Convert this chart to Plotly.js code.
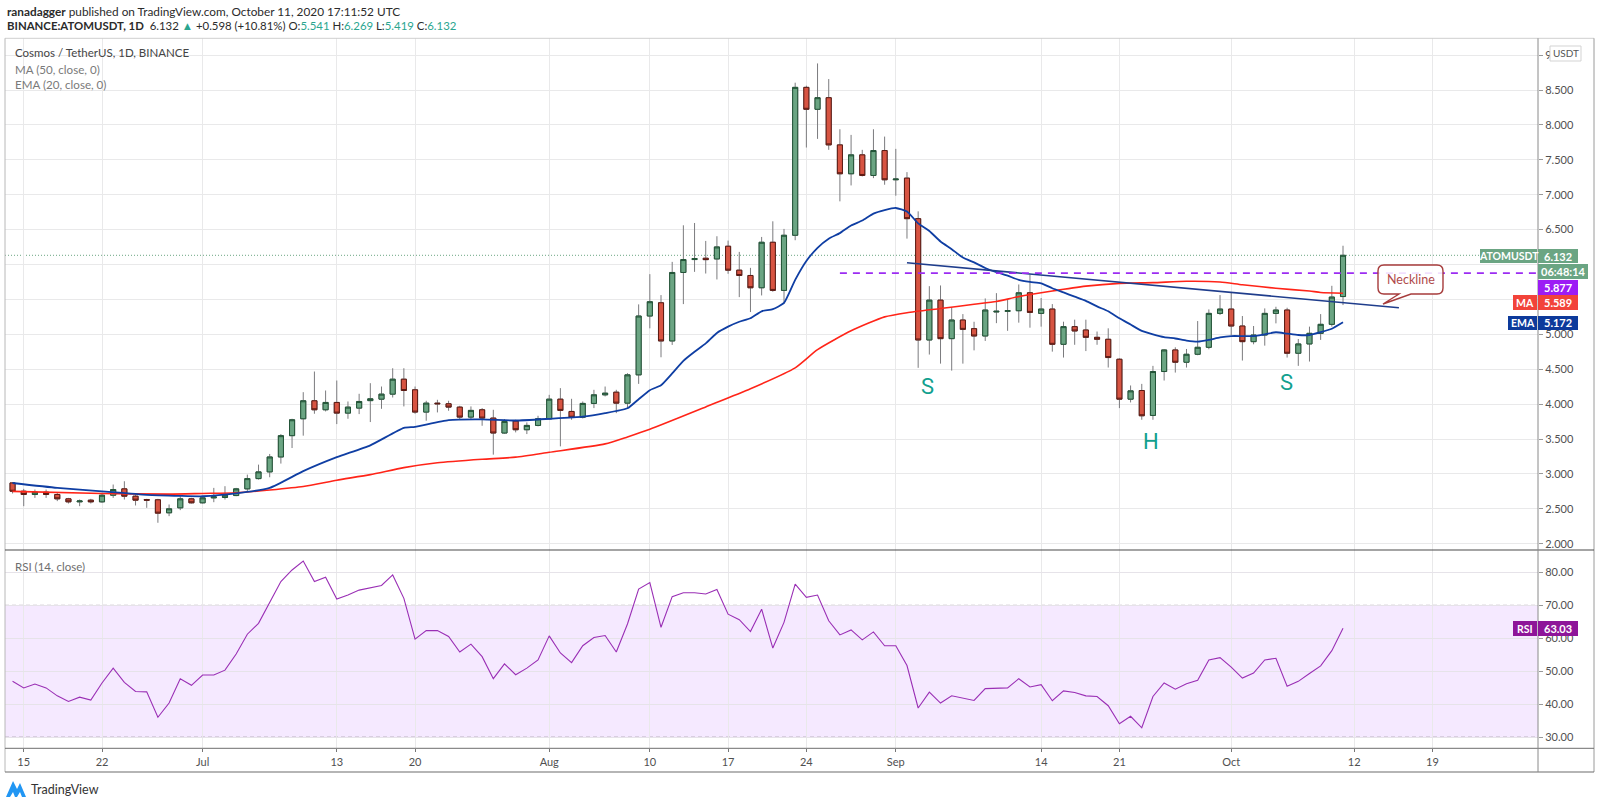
<!DOCTYPE html>
<html><head><meta charset="utf-8">
<script src="https://cdn.plot.ly/plotly-3.0.1.min.js"></script>
<style>html,body{margin:0;padding:0;background:#fff;}#chart{width:1600px;height:805px;}</style>
</head><body><div id="chart"></div>
<script>
// ---------------- DATA ----------------
const firstDay = [2020, 5, 14]; // 14 Jun 2020, daily candles
const openP = [2.871,2.752,2.705,2.738,2.705,2.643,2.600,2.624,2.600,2.695,
 2.786,2.681,2.633,2.629,2.443,2.514,2.643,2.586,2.657,2.662,
 2.690,2.786,2.933,3.029,3.243,3.548,3.790,4.048,3.919,4.024,
 3.871,3.943,4.050,4.071,4.143,4.357,4.205,3.886,4.014,4.005,
 3.957,3.814,3.919,3.800,3.586,3.757,3.633,3.695,3.790,4.071,
 3.895,3.812,4.010,4.133,4.171,4.014,4.419,5.262,5.452,4.905,
 5.886,6.071,6.090,6.080,6.262,5.919,5.843,5.667,6.319,5.629,
 6.419,8.538,8.224,8.390,7.714,7.300,7.571,7.276,7.633,7.214,
 7.238,6.657,4.919,5.490,4.938,5.205,5.081,4.976,5.320,5.330,
 5.338,5.595,5.300,5.362,4.857,5.110,5.062,4.957,4.929,4.643,
 4.071,4.195,3.838,4.467,4.776,4.600,4.714,4.814,5.300,5.362,
 5.119,4.895,4.990,5.300,5.348,4.729,4.862,5.014,5.143,5.541];
const highP = [2.880,2.786,2.776,2.776,2.729,2.657,2.633,2.643,2.729,2.848,
 2.895,2.705,2.643,2.643,2.562,2.681,2.657,2.681,2.800,2.824,
 2.800,2.990,3.133,3.286,3.571,3.790,4.171,4.467,4.195,4.338,
 4.038,4.148,4.300,4.252,4.514,4.514,4.252,4.048,4.062,4.048,
 3.976,3.967,3.943,3.919,3.786,3.776,3.738,3.833,4.133,4.229,
 4.076,4.038,4.205,4.252,4.205,4.443,5.429,5.862,5.562,6.038,
 6.562,6.595,6.338,6.405,6.343,6.181,5.952,6.395,6.619,6.510,
 8.605,8.562,8.881,8.657,7.938,7.857,7.643,7.938,7.833,7.657,
 7.324,6.762,5.690,5.700,5.390,5.290,5.180,5.514,5.590,5.500,
 5.714,5.857,5.520,5.433,5.181,5.210,5.210,5.040,5.086,4.657,
 4.267,4.290,4.548,4.786,4.814,4.790,5.190,5.357,5.562,5.595,
 5.262,5.119,5.371,5.395,5.381,4.933,5.110,5.290,5.695,6.269];
const lowP = [2.720,2.538,2.657,2.657,2.610,2.576,2.538,2.576,2.586,2.657,
 2.633,2.548,2.514,2.300,2.395,2.481,2.576,2.576,2.595,2.633,
 2.681,2.752,2.919,2.952,3.148,3.371,3.548,3.862,3.895,3.714,
 3.790,3.857,3.743,3.933,4.095,3.967,3.862,3.762,3.881,3.905,
 3.786,3.776,3.690,3.276,3.576,3.595,3.571,3.681,3.776,3.395,
 3.776,3.795,3.943,4.110,3.871,3.943,4.290,5.086,4.671,4.848,
 5.433,5.895,5.871,5.786,5.867,5.533,5.319,5.557,5.610,5.438,
 6.348,7.676,7.800,7.643,6.905,7.133,7.262,7.238,7.143,6.986,
 6.371,4.520,4.710,4.580,4.480,4.580,4.770,4.905,5.160,5.050,
 5.167,5.095,5.110,4.752,4.667,4.850,4.760,4.850,4.524,3.943,
 4.024,3.776,3.776,4.338,4.452,4.524,4.700,4.786,5.276,4.990,
 4.624,4.857,4.838,5.157,4.667,4.548,4.610,4.920,5.110,5.419];
const closeP = [2.752,2.705,2.738,2.705,2.643,2.600,2.612,2.600,2.695,2.776,
 2.681,2.624,2.624,2.438,2.500,2.643,2.586,2.657,2.671,2.695,
 2.786,2.933,3.029,3.243,3.548,3.776,4.048,3.919,4.024,3.871,
 3.957,4.038,4.076,4.143,4.357,4.195,3.886,4.014,4.005,3.957,
 3.814,3.910,3.800,3.586,3.752,3.633,3.695,3.790,4.071,3.910,
 3.812,4.010,4.133,4.157,4.014,4.419,5.262,5.467,4.905,5.886,
 6.071,6.085,6.070,6.252,5.919,5.843,5.667,6.319,5.629,6.419,
 8.538,8.224,8.390,7.714,7.300,7.571,7.276,7.633,7.214,7.224,
 6.657,4.919,5.490,4.938,5.205,5.071,4.976,5.348,5.330,5.338,
 5.595,5.314,5.362,4.857,5.110,5.048,4.957,4.929,4.667,4.071,
 4.190,3.833,4.467,4.776,4.600,4.714,4.814,5.300,5.362,5.119,
 4.895,4.990,5.300,5.348,4.729,4.862,5.014,5.143,5.534,6.132];
const rsiVals = [46.9,44.9,46.1,44.9,42.5,40.8,42.1,41.2,46.4,50.9,
 46.6,43.8,43.7,36.0,40.3,47.7,45.7,48.8,48.8,50.3,
 55.2,61.2,64.5,70.8,77.2,80.7,83.4,77.2,78.5,71.9,
 73.1,74.6,75.2,76.0,79.2,72.1,59.7,62.3,62.3,60.5,
 55.8,58.2,54.4,47.7,52.2,48.9,50.9,53.4,60.7,55.5,
 52.6,57.7,60.2,60.8,55.8,64.3,74.9,76.9,63.3,72.6,
 73.8,73.8,73.4,74.8,67.3,65.6,62.0,68.8,57.0,64.8,
 76.4,72.4,73.1,65.3,61.0,62.5,59.5,61.9,57.7,57.7,
 51.7,38.8,43.6,40.3,42.5,41.8,41.1,44.7,44.7,44.9,
 47.7,45.2,45.9,41.0,44.0,43.5,42.5,42.3,39.5,34.0,
 36.3,32.8,42.3,46.4,44.5,46.2,47.2,53.4,54.1,51.2,
 47.9,49.4,53.4,53.9,45.4,46.9,49.3,51.6,56.2,63.03];
const emaDates = ['2020-06-14','2020-06-18','2020-06-22','2020-06-26','2020-06-29','2020-07-01','2020-07-04','2020-07-07','2020-07-10','2020-07-13','2020-07-16','2020-07-19','2020-07-20','2020-07-23','2020-07-26','2020-07-29','2020-08-01','2020-08-04','2020-08-06','2020-08-08','2020-08-09','2020-08-10','2020-08-11','2020-08-12','2020-08-13','2020-08-14','2020-08-15','2020-08-16','2020-08-17','2020-08-18','2020-08-19','2020-08-20','2020-08-21','2020-08-22','2020-08-23','2020-08-24','2020-08-25','2020-08-26','2020-08-27','2020-08-28','2020-08-29','2020-08-30','2020-08-31','2020-09-01','2020-09-02','2020-09-03','2020-09-04','2020-09-05','2020-09-06','2020-09-07','2020-09-08','2020-09-09','2020-09-10','2020-09-11','2020-09-12','2020-09-13','2020-09-14','2020-09-15','2020-09-16','2020-09-17','2020-09-18','2020-09-19','2020-09-20','2020-09-21','2020-09-22','2020-09-23','2020-09-24','2020-09-25','2020-09-26','2020-09-27','2020-09-28','2020-09-29','2020-09-30','2020-10-01','2020-10-02','2020-10-03','2020-10-04','2020-10-05','2020-10-06','2020-10-07','2020-10-08','2020-10-09','2020-10-10','2020-10-11'];
const emaVals = [2.87,2.80,2.75,2.70,2.685,2.68,2.72,2.80,3.04,3.24,3.41,3.66,3.675,3.77,3.78,3.765,3.79,3.82,3.87,3.94,4.07,4.20,4.27,4.44,4.62,4.75,4.87,5.02,5.11,5.18,5.23,5.33,5.36,5.45,5.78,6.05,6.24,6.37,6.45,6.56,6.63,6.73,6.78,6.81,6.76,6.59,6.48,6.33,6.22,6.10,6.03,5.95,5.89,5.84,5.78,5.75,5.73,5.66,5.60,5.54,5.48,5.40,5.33,5.23,5.14,5.05,5.00,4.96,4.94,4.91,4.895,4.92,4.955,4.975,4.975,4.975,5.00,5.03,5.01,4.99,4.99,5.03,5.08,5.172];
const maDates = ['2020-06-14','2020-06-22','2020-06-28','2020-07-01','2020-07-04','2020-07-07','2020-07-10','2020-07-13','2020-07-16','2020-07-19','2020-07-22','2020-07-26','2020-07-29','2020-08-01','2020-08-06','2020-08-08','2020-08-10','2020-08-15','2020-08-19','2020-08-23','2020-08-25','2020-08-28','2020-08-31','2020-09-02','2020-09-05','2020-09-08','2020-09-10','2020-09-12','2020-09-15','2020-09-18','2020-09-21','2020-09-24','2020-09-27','2020-09-30','2020-10-02','2020-10-05','2020-10-08','2020-10-09','2020-10-11'];
const maVals = [2.75,2.72,2.71,2.72,2.73,2.77,2.82,2.91,2.99,3.09,3.16,3.21,3.24,3.31,3.43,3.53,3.64,3.96,4.22,4.52,4.78,5.05,5.25,5.31,5.37,5.43,5.47,5.54,5.62,5.69,5.73,5.74,5.76,5.75,5.71,5.66,5.62,5.60,5.589];
const necklineDates = ['2020-09-02','2020-10-16'];
const necklineVals = [6.026, 5.381];
const resistanceStart = '2020-08-27';
const resistanceLevel = 5.877;
const tickDates = ['2020-06-15','2020-06-22','2020-07-01','2020-07-13','2020-07-20','2020-08-01','2020-08-10','2020-08-17','2020-08-24','2020-09-01','2020-09-14','2020-09-21','2020-10-01','2020-10-12','2020-10-19'];
const tickLabels = ['15','22','Jul','13','20','Aug','10','17','24','Sep','14','21','Oct','12','19'];
const priceTicks = [2,2.5,3,3.5,4,4.5,5,5.5,6,6.5,7,7.5,8,8.5,9];
const priceTickText = ['2.000','2.500','3.000','3.500','4.000','4.500','5.000','','','6.500','7.000','7.500','8.000','8.500','9.000'];
const rsiTicks = [30,40,50,60,70,80];
const lastPrice = 6.132, maLast = 5.589, emaLast = 5.172, rsiLast = 63.03;
const patternLabels = [
  {text:'S', date:'2020-09-03 20:00', price:4.25},
  {text:'H', date:'2020-09-23 20:00', price:3.46},
  {text:'S', date:'2020-10-05 22:00', price:4.31}
];

// ---------------- HELPERS ----------------
const dates = openP.map((_, i) => new Date(Date.UTC(firstDay[0], firstDay[1], firstDay[2] + i)).toISOString().slice(0, 10));
const bodyHigh = openP.map((o, i) => Math.max(o, closeP[i]));
const bodyLow = openP.map((o, i) => Math.min(o, closeP[i]));
const W = 1600, H = 805;
const PX = x => x / W, PY = y => 1 - y / H;
const plotL = 5, plotR = 1538, mainTop = 38.3, mainBot = 550, rsiBot = 748.3, boxBot = 772, boxR = 1594;
const xStart = '2020-06-13 07:47', xEnd = '2020-10-28 10:34';
const GREEN = '#6ba583', GREEN_D = '#225437', RED = '#d75442', RED_D = '#5b1a13';
const FONT = 'Lato, Roboto, "Liberation Sans", sans-serif';

const traces = [
  { type:'candlestick', x:dates, open:openP, high:highP, low:lowP, close:closeP,
    increasing:{line:{color:'#7b7b7e', width:1}, fillcolor:'#7b7b7e'},
    decreasing:{line:{color:'#7b7b7e', width:1}, fillcolor:'#7b7b7e'},
    whiskerwidth:0, hoverinfo:'skip', showlegend:false, xaxis:'x', yaxis:'y' },
  { type:'candlestick', x:dates, open:openP, high:bodyHigh, low:bodyLow, close:closeP,
    increasing:{line:{color:GREEN_D, width:1}, fillcolor:GREEN},
    decreasing:{line:{color:RED_D, width:1}, fillcolor:RED},
    whiskerwidth:0, hoverinfo:'skip', showlegend:false, xaxis:'x', yaxis:'y' },
  { type:'scatter', mode:'lines', x:maDates, y:maVals, line:{color:'#ff2418', width:1.6, shape:'spline', smoothing:0.6}, hoverinfo:'skip', showlegend:false, xaxis:'x', yaxis:'y' },
  { type:'scatter', mode:'lines', x:emaDates, y:emaVals, line:{color:'#0f3ea3', width:1.8, shape:'spline', smoothing:0.5}, hoverinfo:'skip', showlegend:false, xaxis:'x', yaxis:'y' },
  { type:'scatter', mode:'lines', x:necklineDates, y:necklineVals, line:{color:'#1f3d8c', width:1.6}, hoverinfo:'skip', showlegend:false, xaxis:'x', yaxis:'y' },
  { type:'scatter', mode:'lines', x:dates, y:rsiVals, line:{color:'#9a2fb5', width:1.1}, hoverinfo:'skip', showlegend:false, xaxis:'x', yaxis:'y2' }
];

const shapes = [];
const line = (x0, y0, x1, y1, color, width, dash) => shapes.push({type:'line', xref:'paper', yref:'paper', x0:PX(x0), y0:PY(y0), x1:PX(x1), y1:PY(y1), line:{color, width, dash: dash || 'solid'}, layer:'above'});
const rect = (x0, y0, x1, y1, fill, lineColor) => shapes.push({type:'rect', xref:'paper', yref:'paper', x0:PX(x0), y0:PY(y0), x1:PX(x1), y1:PY(y1), fillcolor:fill, line:{color:lineColor || fill, width: lineColor ? 1 : 0}, layer:'above'});

// RSI band
shapes.push({type:'rect', xref:'paper', yref:'y2', x0:PX(plotL), x1:PX(plotR), y0:30, y1:70, fillcolor:'rgba(155,40,255,0.10)', line:{width:0}, layer:'between'});
[30,70].forEach(v => shapes.push({type:'line', xref:'paper', yref:'y2', x0:PX(plotL), x1:PX(plotR), y0:v, y1:v, line:{color:'#bdb2c2', width:1, dash:'4px,3px'}, layer:'between'}));
// last price dotted line
shapes.push({type:'line', xref:'paper', yref:'y', x0:PX(plotL), x1:PX(plotR), y0:lastPrice, y1:lastPrice, line:{color:GREEN, width:1, dash:'1px,2px'}, layer:'between'});
// resistance dashed line
shapes.push({type:'line', xref:'x', yref:'y', x0:resistanceStart, x1:xEnd, y0:resistanceLevel, y1:resistanceLevel, line:{color:'#9c2cf2', width:1.8, dash:'7px,6px'}, layer:'above'});
// frame
line(plotL, mainTop, boxR, mainTop, '#cfcfcf', 1);
line(plotL, mainTop, plotL, boxBot, '#b8b8b8', 1);
line(boxR, mainTop, boxR, boxBot, '#9a9a9a', 1);
line(plotL, boxBot, boxR, boxBot, '#6d6d6d', 1.2);
line(plotL, mainBot, boxR, mainBot, '#4a4a4a', 1.2);
line(plotL, rsiBot, boxR, rsiBot, '#6d6d6d', 1);
line(plotR, mainTop, plotR, boxBot, '#8a8a8a', 1);

// neckline callout
const P = (x, y) => PX(x).toFixed(5) + ',' + PY(y).toFixed(5);
const calloutPath = 'M' + P(1384,265) + ' L' + P(1437,265) + ' Q' + P(1443,265) + ' ' + P(1443,271) +
  ' L' + P(1443,288) + ' Q' + P(1443,294) + ' ' + P(1437,294) + ' L' + P(1411,294) + ' L' + P(1383,304) +
  ' L' + P(1399,294) + ' L' + P(1384,294) + ' Q' + P(1378,294) + ' ' + P(1378,288) + ' L' + P(1378,271) +
  ' Q' + P(1378,265) + ' ' + P(1384,265) + ' Z';
shapes.push({type:'path', xref:'paper', yref:'paper', path:calloutPath, fillcolor:'rgba(255,255,255,0.85)', line:{color:'#a63b3b', width:1.4}, layer:'above'});

// right axis labels (boxes)
rect(1480, 249, 1537, 263, GREEN); rect(1538, 249, 1578, 263, GREEN);
rect(1538, 264, 1588, 279, GREEN);
rect(1538, 280, 1578, 295, '#9c1cf5');
rect(1513, 295, 1537, 310, '#f2433a'); rect(1538, 295, 1578, 310, '#f2433a');
rect(1508, 316, 1537, 330, '#0d3a9b'); rect(1538, 316, 1578, 330, '#0d3a9b');
rect(1513, 621, 1537, 636, '#8e1599'); rect(1538, 621, 1578, 636, '#8e1599');
shapes.push({type:'rect', xref:'paper', yref:'paper', x0:PX(1550), y0:PY(46), x1:PX(1581), y1:PY(61), fillcolor:'#ffffff', line:{color:'#d3d3d3', width:1}, layer:'above'});
// TradingView logo icon
shapes.push({type:'path', xref:'paper', yref:'paper', path:'M' + P(6,797) + ' L' + P(13,781) + ' L' + P(17,789) + ' L' + P(20,783) + ' L' + P(26,797) + ' L' + P(22,797) + ' L' + P(20,792) + ' L' + P(17,797) + ' L' + P(15,797) + ' L' + P(13,792) + ' L' + P(10,797) + ' Z', fillcolor:'#2196f3', line:{width:0}, layer:'above'});

const ann = [];
const txt = (x, y, text, size, color, anchor, extra) => ann.push(Object.assign({xref:'paper', yref:'paper', x:PX(x), y:PY(y), text, showarrow:false, xanchor:anchor || 'left', yanchor:'middle', font:{family:FONT, size, color}}, extra || {}));
const G = s => '<span style="color:#2aa58f">' + s + '</span>';
txt(5, 12, '<b>ranadagger</b> published on TradingView.com, October 11, 2020 17:11:52 UTC', 11.8, '#2b2b2b');
txt(5, 26, '<b>BINANCE:ATOMUSDT, 1D</b>  6.132 ' + G('▲') + ' +0.598 (+10.81%) O:' + G('5.541') + ' H:' + G('6.269') + ' L:' + G('5.419') + ' C:' + G('6.132'), 11.4, '#2b2b2b');
txt(13, 53, 'Cosmos / TetherUS, 1D, BINANCE', 11.5, '#454545');
txt(13, 69, 'MA (50, close, 0)', 11.6, '#7a7a7a');
txt(13, 85, 'EMA (20, close, 0)', 11.6, '#7a7a7a');
txt(13, 566, 'RSI (14, close)', 11.5, '#6e6e6e');
patternLabels.forEach(p => ann.push({xref:'x', yref:'y', x:p.date, y:p.price, text:p.text, showarrow:false, xanchor:'center', yanchor:'middle', font:{family:'Roboto, Lato, sans-serif', size:22, color:'#12a08e'}}));
txt(1410.5, 279.5, 'Neckline', 12.5, '#b04a4a', 'center');
txt(1508.5, 256, '<b>ATOMUSDT</b>', 10.5, '#ffffff', 'center');
txt(1558, 256, '<b>' + lastPrice.toFixed(3) + '</b>', 11, '#ffffff', 'center');
txt(1563, 271.5, '<b>06:48:14</b>', 11, '#ffffff', 'center');
txt(1558, 287.5, '<b>' + resistanceLevel.toFixed(3) + '</b>', 11, '#ffffff', 'center');
txt(1525, 302.5, '<b>MA</b>', 10.5, '#ffffff', 'center');
txt(1558, 302.5, '<b>' + maLast.toFixed(3) + '</b>', 11, '#ffffff', 'center');
txt(1522.5, 323, '<b>EMA</b>', 10.5, '#ffffff', 'center');
txt(1558, 323, '<b>' + emaLast.toFixed(3) + '</b>', 11, '#ffffff', 'center');
txt(1525, 628.5, '<b>RSI</b>', 10.5, '#ffffff', 'center');
txt(1558, 628.5, '<b>' + rsiLast.toFixed(2) + '</b>', 11, '#ffffff', 'center');
txt(1565.5, 53.5, 'USDT', 10, '#555555', 'center');
txt(29, 789, 'TradingView', 12.5, '#333333');

const axisFont = {family:FONT, size:11, color:'#505050'};
const layout = {
  width:W, height:H, margin:{l:0, r:0, t:0, b:0}, paper_bgcolor:'#ffffff', plot_bgcolor:'#ffffff',
  showlegend:false, boxgap:0.35, boxmode:'overlay', font:{family:FONT},
  xaxis:{type:'date', domain:[PX(plotL), PX(plotR)], range:[xStart, xEnd], anchor:'y2',
    tickvals:tickDates, ticktext:tickLabels, tickfont:axisFont, ticks:'outside', ticklen:3, tickcolor:'#777',
    showgrid:true, gridcolor:'#e9e9ea', gridwidth:1, zeroline:false, showline:false,
    rangeslider:{visible:false}, fixedrange:true},
  yaxis:{domain:[PY(mainBot), PY(mainTop)], range:[1.910, 9.241], side:'right', anchor:'x',
    tickvals:priceTicks, ticktext:priceTickText, tickfont:axisFont, ticks:'outside', ticklen:4, tickcolor:'#999',
    showgrid:true, gridcolor:'#e9e9ea', zeroline:false, showline:false, fixedrange:true},
  yaxis2:{domain:[PY(rsiBot), PY(mainBot)], range:[26.57, 86.77], side:'right', anchor:'x',
    tickvals:rsiTicks, tickformat:'.2f', tickfont:axisFont, ticks:'outside', ticklen:4, tickcolor:'#999',
    showgrid:true, gridcolor:'#e6e3e9', zeroline:false, showline:false, fixedrange:true},
  shapes, annotations:ann
};
Plotly.newPlot('chart', traces, layout, {staticPlot:true, displayModeBar:false});
</script></body></html>
